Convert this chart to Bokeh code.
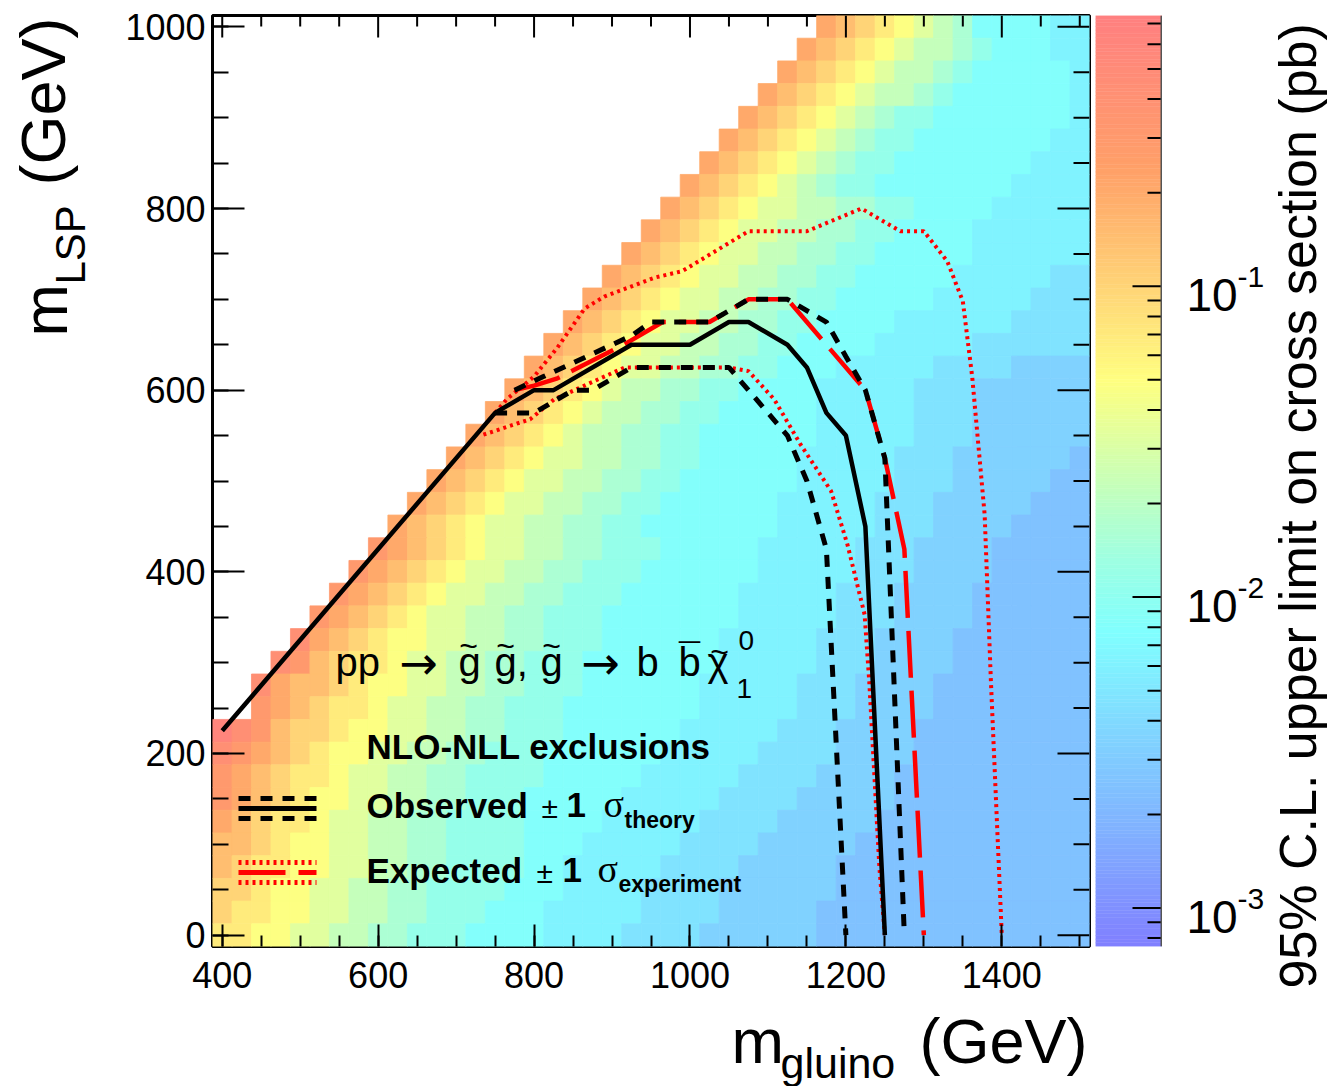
import math
from bokeh.plotting import figure
from bokeh.layouts import row, column
from bokeh.models import ColumnDataSource, SingleIntervalTicker, LogColorMapper
from bokeh.core.properties import value
from bokeh.embed import file_html
from bokeh.resources import INLINE

# ---------------------------------------------------------------- data
# bin centres of the limit map (GeV)
gluino_bins = [400, 425, 450, 475, 500, 525, 550, 575, 600, 625, 650, 675, 700,
               725, 750, 775, 800, 825, 850, 875, 900, 925, 950, 975, 1000, 1025,
               1050, 1075, 1100, 1125, 1150, 1175, 1200, 1225, 1250, 1275, 1300,
               1325, 1350, 1375, 1400, 1425, 1450, 1475, 1500]
lsp_bins_top_down = [1000, 975, 950, 925, 900, 875, 850, 825, 800, 775, 750, 725,
                     700, 675, 650, 625, 600, 575, 550, 525, 500, 475, 450, 425,
                     400, 375, 350, 325, 300, 275, 250, 225, 200, 175, 150, 125,
                     100, 75, 50, 25, 0]

# colour level read for each cell (one row per m_LSP, top row = 1000 GeV);
# '.' = no point; level -> log10(sigma_UL / pb) in level_log10
limit_rows = [
    "..... ..... ..... ..... ..... ..... .edcb a9875 55544",
    "..... ..... ..... ..... ..... ..... edcba 98876 55544",
    "..... ..... ..... ..... ..... ....e dcba9 88765 55554",
    "..... ..... ..... ..... ..... ...ed cba98 87655 55554",
    "..... ..... ..... ..... ..... ..edc ba987 66555 55554",
    "..... ..... ..... ..... ..... .edcb a9876 65555 55544",
    "..... ..... ..... ..... ..... edcba 98766 55555 55444",
    "..... ..... ..... ..... ....e dcba9 87665 55555 54444",
    "..... ..... ..... ..... ...ed cba99 88776 65555 44444",
    "..... ..... ..... ..... ..edc ba998 87766 55554 44444",
    "..... ..... ..... ..... .edcb a9988 77665 55554 44444",
    "..... ..... ..... ..... edcba 99887 76655 55544 44433",
    "..... ..... ..... ....e dcba9 98877 66555 55444 44333",
    "..... ..... ..... ...ed cba99 88776 65555 44444 43333",
    "..... ..... ..... ..edc ba998 87766 55554 44443 33333",
    "..... ..... ..... .edcb a9988 77665 55444 44333 32222",
    "..... ..... ..... edcba 98877 66555 54444 43332 22222",
    "..... ..... ....e dcba9 88776 65555 54444 43332 22222",
    "..... ..... ...ed cba98 87766 55555 54444 43332 22222",
    "..... ..... ..edc ba998 87766 55555 44444 33322 22221",
    "..... ..... .edcb a9988 77665 55555 44444 33322 22211",
    "..... ..... edcba 99887 76655 55554 44443 33222 22111",
    "..... ....e dcba9 98877 66555 55554 44443 33222 21111",
    "..... ...fe dcba9 98877 66655 55544 44433 32222 11111",
    "..... ..fed cba99 88776 66555 55544 44433 32222 11111",
    "..... .fedc ba998 87766 65555 55444 44333 22221 11111",
    "..... fedcb a9988 77666 55555 55444 44333 22221 11111",
    "....g edcba a9988 77666 55555 54444 43332 22211 11111",
    "...gf dcbba 99887 76665 55555 54444 43332 22211 11111",
    "..ged dcbaa 99887 76665 55555 44444 33322 22111 11111",
    "..fed cbba9 98877 66655 55555 44444 33322 22111 11111",
    "hgfdc cbaa9 98877 66655 55554 44443 33222 21111 11111",
    "gfedc baa99 88776 66555 55544 44433 33222 21111 11111",
    "fedcb ba998 87766 66555 55444 44333 32222 11111 11111",
    "fedcb aa998 87766 65555 54444 43333 22222 11111 11111",
    "edcbb a9988 77666 65555 44444 33332 22221 11111 11111",
    "ddcba a9988 77666 65554 44443 33322 22211 11111 11111",
    "dcbba a9988 77666 65544 44433 33222 22111 11111 11111",
    "ccbaa 99887 76666 55544 44333 32222 22111 11111 11111",
    "cbbaa 99887 76665 55444 44333 32222 21111 11111 11111",
    "bbaa9 98877 66655 55444 43333 22222 21111 11111 11111",
]
level_log10 = {
    "0": -2.75, "1": -2.60, "2": -2.46, "3": -2.33, "4": -2.21, "5": -2.09,
    "6": -1.95, "7": -1.80, "8": -1.64, "9": -1.48, "a": -1.32, "b": -1.16,
    "c": -1.00, "d": -0.84, "e": -0.68, "f": -0.52, "g": -0.37, "h": -0.22,
}

# exclusion contours (m_gluino, m_LSP) in GeV
obs_x = [400, 750, 800, 825, 925, 1000, 1050, 1075, 1125, 1150, 1175, 1200, 1225, 1250]
obs_y = [225, 575, 600, 600, 650, 650, 675, 675, 650, 625, 575, 550, 450, 0]
obs_m1_x = [750, 800, 850, 875, 925, 1050, 1075, 1100, 1125, 1150, 1175, 1200]
obs_m1_y = [575, 575, 600, 600, 625, 625, 600, 575, 550, 500, 425, 0]
obs_p1_x = [775, 812, 925, 950, 1025, 1075, 1125, 1175, 1200, 1225, 1250, 1275]
obs_p1_y = [600, 615, 660, 675, 675, 700, 700, 675, 637, 600, 525, 0]
exp_x = [775, 800, 830, 915, 965, 1025, 1075, 1125, 1225, 1250, 1275, 1300]
exp_y = [600, 605, 613, 650, 675, 675, 700, 700, 600, 525, 425, 0]
exp_p1_x = [750, 765, 800, 830, 865, 890, 955, 990, 1075, 1150, 1220, 1270, 1300,
            1330, 1350, 1362, 1378, 1386, 1400]
exp_p1_y = [575, 590, 615, 647, 690, 703, 724, 731, 775, 775, 800, 775, 775,
            742, 698, 615, 463, 280, 0]
exp_m1_x = [735, 795, 826, 916, 1050, 1075, 1108, 1142, 1181, 1202, 1224, 1230, 1243, 1250]
exp_m1_y = [551, 568, 590, 625, 625, 621, 590, 540, 489, 430, 353, 279, 74, 0]

cbar_major = [0.001, 0.01, 0.1]
cbar_labels = ["-3", "-2", "-1"]

# ---------------------------------------------------------------- colours
LOG_LO, LOG_HI = -3.124, -0.129
stops = [(0.00, (128, 128, 255)), (0.12, (128, 176, 255)), (0.22, (128, 210, 255)),
         (0.336, (128, 255, 255)), (0.42, (160, 255, 224)), (0.50, (200, 255, 184)),
         (0.608, (255, 255, 128)), (0.70, (255, 216, 120)), (0.837, (255, 160, 104)),
         (1.00, (255, 128, 128))]


def interp(f):
    for (f0, c0), (f1, c1) in zip(stops[:-1], stops[1:]):
        if f <= f1:
            t = (f - f0) / (f1 - f0)
            return tuple(int(round(a + (b - a) * t)) for a, b in zip(c0, c1))
    return stops[-1][1]


palette = ["#%02x%02x%02x" % interp(k / 255.0) for k in range(256)]
mapper = LogColorMapper(palette=palette, low=10 ** LOG_LO, high=10 ** LOG_HI)

xs, ys, vals = [], [], []
for r, mlsp in zip(limit_rows, lsp_bins_top_down):
    s = r.replace(" ", "")
    assert len(s) == len(gluino_bins), (mlsp, len(s))
    for mg, ch in zip(gluino_bins, s):
        if ch != ".":
            xs.append(mg)
            ys.append(mlsp)
            vals.append(10 ** level_log10[ch])
src = ColumnDataSource(dict(x=xs, y=ys, limit=vals))

# ---------------------------------------------------------------- layout helpers
FONT = "Liberation Sans"
FL, FR, FT, FB = 212, 1089, 15, 946          # main frame edges on the page (px)
CL, CR = 1095, 1162                          # colour bar edges on the page (px)
TOP_H = 1004                                 # height of the upper row
PAGE_W, PAGE_H = 1335, 1086
LEFT_PANEL = 100
XR = (387.5, 1512.5)
YR = (-12.5, 1012.5)
MID = 0.347                                  # em-box middle above the baseline


def X(px):
    return XR[0] + (px - FL) * (XR[1] - XR[0]) / (FR - FL)


def Y(py):
    return YR[1] - (py - FT) * (YR[1] - YR[0]) / (FB - FT)


def txt(fig, x, y, s, size, style="normal", font=FONT, align="left", angle=0.0,
        color="black"):
    fig.text(x=[x], y=[y], text=[s], text_font=value(font),
             text_font_size=value("%dpx" % size), text_font_style=style,
             text_align=align, text_baseline="middle", angle=angle,
             text_color=color)


def ptxt(px, base, s, size, **kw):
    """text in the main frame, given page x and page baseline"""
    txt(p, X(px), Y(base - MID * size), s, size, **kw)


def blank(width, height, xr, yr):
    f = figure(width=width, height=height, min_border=0, x_range=xr, y_range=yr,
               x_axis_location=None, y_axis_location=None, toolbar_location=None,
               output_backend="svg", outline_line_color=None, frame_align=False,
               background_fill_color="white", border_fill_color="white")
    f.grid.visible = False
    return f


# ---------------------------------------------------------------- main figure
p = figure(frame_width=FR - FL, frame_height=FB - FT,
           min_border_left=FL - LEFT_PANEL, min_border_right=CL - FR,
           min_border_top=FT, min_border_bottom=TOP_H - FB, frame_align=False,
           x_range=XR, y_range=YR, toolbar_location=None, output_backend="svg",
           background_fill_color="white", border_fill_color="white",
           outline_line_color="black", outline_line_width=3)
p.grid.visible = False

for ax, major, minor, stand in ((p.xaxis[0], 22, 11, 15), (p.yaxis[0], 32, 16, 7)):
    ax.ticker = SingleIntervalTicker(interval=200, num_minor_ticks=4)
    ax.axis_line_color = None
    ax.major_tick_in = major
    ax.major_tick_out = 0
    ax.minor_tick_in = minor
    ax.minor_tick_out = 0
    ax.major_tick_line_width = 2
    ax.minor_tick_line_width = 2
    ax.major_tick_line_color = "black"
    ax.minor_tick_line_color = "black"
    ax.major_label_text_font = FONT
    ax.major_label_text_font_size = "36px"
    ax.major_label_text_color = "black"
    ax.major_label_standoff = stand

cmap = {"field": "limit", "transform": mapper}
p.rect(x="x", y="y", width=25, height=25, source=src, fill_color=cmap,
       line_color=cmap, line_width=0.8)

# mirrored ticks on the top and right frame edges
dx = (XR[1] - XR[0]) / (FR - FL)
dy = (YR[1] - YR[0]) / (FB - FT)
xt_major = [v for v in range(400, 1501, 200)]
xt_minor = [v for v in range(400, 1501, 50) if v % 200]
yt_major = [v for v in range(0, 1001, 200)]
yt_minor = [v for v in range(0, 1001, 50) if v % 200]
p.segment(x0=xt_major, x1=xt_major, y0=[YR[1]] * len(xt_major),
          y1=[YR[1] - 22 * dy] * len(xt_major), line_color="black", line_width=2)
p.segment(x0=xt_minor, x1=xt_minor, y0=[YR[1]] * len(xt_minor),
          y1=[YR[1] - 11 * dy] * len(xt_minor), line_color="black", line_width=2)
p.segment(y0=yt_major, y1=yt_major, x0=[XR[1]] * len(yt_major),
          x1=[XR[1] - 32 * dx] * len(yt_major), line_color="black", line_width=2)
p.segment(y0=yt_minor, y1=yt_minor, x0=[XR[1]] * len(yt_minor),
          x1=[XR[1] - 16 * dx] * len(yt_minor), line_color="black", line_width=2)

p.line(exp_p1_x, exp_p1_y, line_color="red", line_width=4, line_dash="3 4")
p.line(exp_m1_x, exp_m1_y, line_color="red", line_width=4, line_dash="3 4")
p.line(exp_x, exp_y, line_color="red", line_width=4.5, line_dash="47 13")
p.line(obs_p1_x, obs_p1_y, line_color="black", line_width=5, line_dash="12 10")
p.line(obs_m1_x, obs_m1_y, line_color="black", line_width=5, line_dash="12 10")
p.line(obs_x, obs_y, line_color="black", line_width=4.5)

# legend swatches
lx = [X(238), X(316)]
p.line(lx, [Y(798)] * 2, line_color="black", line_width=5, line_dash="12 10")
p.line(lx, [Y(808)] * 2, line_color="black", line_width=5)
p.line(lx, [Y(818)] * 2, line_color="black", line_width=5, line_dash="12 10")
p.line(lx, [Y(862)] * 2, line_color="red", line_width=5, line_dash="3 4")
p.line(lx, [Y(872)] * 2, line_color="red", line_width=5, line_dash="47 13")
p.line(lx, [Y(882)] * 2, line_color="red", line_width=5, line_dash="3 4")

# legend texts
ptxt(366, 758, "NLO-NLL exclusions", 35, style="bold")
ptxt(366, 817, "Observed", 35, style="bold")
ptxt(541, 817, "\u00b1", 30)
ptxt(566, 817, "1", 35, style="bold")
ptxt(603, 817, "\u03c3", 38, font="Liberation Serif")
ptxt(624, 827, "theory", 23, style="bold")
ptxt(366, 882, "Expected", 35, style="bold")
ptxt(536, 882, "\u00b1", 30)
ptxt(562, 882, "1", 35, style="bold")
ptxt(597, 882, "\u03c3", 38, font="Liberation Serif")
ptxt(618, 891, "experiment", 23, style="bold")

# process text
ptxt(335, 675, "pp", 40)
ptxt(399, 678, "\u2192", 46, font="DejaVu Sans")
ptxt(458, 675, "g", 40)
ptxt(494, 675, "g,", 40)
ptxt(540, 675, "g", 40)
ptxt(581, 678, "\u2192", 46, font="DejaVu Sans")
ptxt(636, 675, "b", 40)
ptxt(678, 675, "b", 40)
ptxt(707, 675, "\u03c7", 40)
ptxt(738, 650, "0", 28)
ptxt(736, 698, "1", 28)
for cx in (468, 505, 551):
    ptxt(cx, 657, "~", 32, align="center")
ptxt(719, 663, "~", 32, align="center")
ptxt(689, 671, "\u00af", 38, align="center")

# ---------------------------------------------------------------- colour bar
cb = figure(frame_width=CR - CL, frame_height=FB - FT, min_border_left=0,
            min_border_right=0, min_border_top=FT, min_border_bottom=TOP_H - FB,
            x_range=(0, 1), y_range=(10 ** LOG_LO, 10 ** LOG_HI), y_axis_type="log",
            y_axis_location=None, x_axis_location=None, toolbar_location=None,
            output_backend="svg", outline_line_color=None, frame_align=False,
            background_fill_color="white", border_fill_color="white")
cb.grid.visible = False
n = len(palette)
edges = [10 ** (LOG_LO + (LOG_HI - LOG_LO) * k / n) for k in range(n + 1)]
cb.quad(left=0, right=1, bottom=edges[:-1], top=edges[1:], fill_color=palette,
        line_color=palette, line_width=0.5)
minors = [m * 10.0 ** e for e in (-4, -3, -2, -1) for m in range(2, 10)
          if 10 ** LOG_LO <= m * 10.0 ** e <= 10 ** LOG_HI]
cw = CR - CL
cb.segment(x0=[1 - 30 / cw] * 3, x1=[1] * 3, y0=cbar_major, y1=cbar_major,
           line_color="black", line_width=2)
cb.segment(x0=[1 - 15 / cw] * len(minors), x1=[1] * len(minors), y0=minors,
           y1=minors, line_color="black", line_width=2)
cb.segment(x0=[1 - 1 / cw], x1=[1 - 1 / cw], y0=[10 ** LOG_LO], y1=[10 ** LOG_HI],
           line_color="#555555", line_width=2)

# ---------------------------------------------------------------- text panels
fy = blank(LEFT_PANEL, TOP_H, (0, LEFT_PANEL), (TOP_H, 0))
# rotated titles: anchor = em-box middle, i.e. baseline x minus MID*size
txt(fy, 66 - MID * 63, 336, "m", 63, angle=math.pi / 2)
txt(fy, 85 - MID * 42, 284, "LSP", 42, angle=math.pi / 2)
txt(fy, 64 - MID * 63, 17, "(GeV)", 63, align="right", angle=math.pi / 2)

fr = blank(PAGE_W - CR, TOP_H, (CR, PAGE_W), (TOP_H, 0))
for val, sup in zip(cbar_major, cbar_labels):
    ty = FT + (LOG_HI - math.log10(val)) * (FB - FT) / (LOG_HI - LOG_LO)
    txt(fr, 1186, ty + 25 - MID * 46, "10", 46)
    txt(fr, 1237, ty + 1 - MID * 30, sup, 30)
txt(fr, 1316 - MID * 52, 988, "95% C.L. upper limit on cross section (pb)", 52,
    align="left", angle=math.pi / 2)

fx = blank(PAGE_W, PAGE_H - TOP_H, (0, PAGE_W), (PAGE_H, TOP_H))
txt(fx, 731, 1062 - MID * 63, "m", 63)
txt(fx, 780, 1077 - MID * 43, "gluino", 43)
txt(fx, 1087, 1062 - MID * 63, "(GeV)", 63, align="right")

layout = column(row(fy, p, cb, fr, spacing=0), fx, spacing=0)
open("out.html", "w").write(file_html(layout, INLINE))
